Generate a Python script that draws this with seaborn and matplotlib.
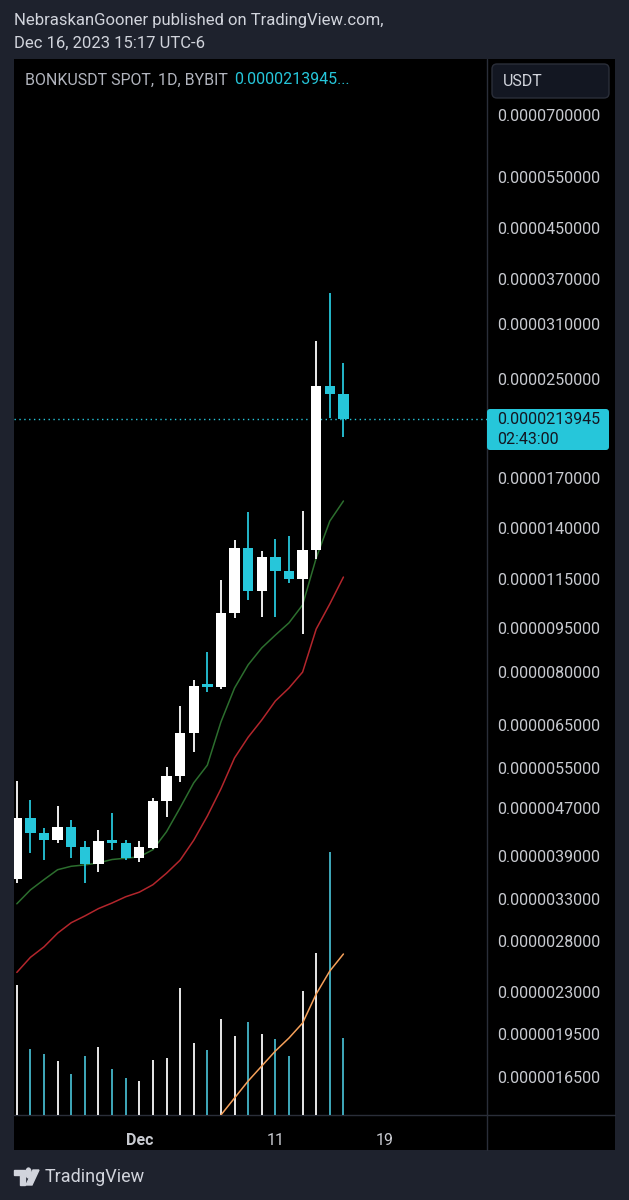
import numpy as np
import matplotlib
matplotlib.use("Agg")
import matplotlib.pyplot as plt
from matplotlib.patches import Rectangle, FancyBboxPatch, Polygon, Circle
import seaborn as sns

# BONKUSDT daily candles, Nov 22 -> Dec 16 2023 (prices in 1e-6 USDT)
opens  = [3.57, 4.53, 4.27, 4.15, 4.37, 4.05, 3.79, 4.15, 4.10, 3.88,
          4.03, 4.84, 5.32, 6.30, 7.62, 7.55, 10.07, 12.97, 10.95, 12.53,
          11.86, 11.47, 12.86, 24.36, 23.61]
highs  = [5.23, 4.86, 4.35, 4.74, 4.49, 4.13, 4.32, 4.62, 4.15, 4.14,
          4.89, 5.52, 7.01, 7.75, 8.63, 11.44, 13.35, 14.89, 12.81, 13.41,
          13.58, 14.98, 29.02, 34.95, 26.67]
lows   = [3.51, 3.95, 3.85, 4.10, 3.88, 3.52, 3.67, 4.00, 3.85, 3.82,
          4.01, 4.55, 5.21, 5.86, 7.38, 7.47, 9.88, 10.58, 9.92, 9.92,
          11.29, 9.26, 12.40, 21.48, 19.99]
closes = [4.53, 4.27, 4.15, 4.37, 4.05, 3.79, 4.14, 4.10, 3.88, 4.04,
          4.84, 5.33, 6.30, 7.57, 7.55, 10.07, 12.97, 10.95, 12.53, 11.85,
          11.47, 12.86, 24.36, 23.61, 21.3945]
volume = [130, 66, 61, 54, 41, 59, 68, 46, 37, 34,
          55, 57, 127, 72, 65, 96, 79, 93, 81, 76,
          59, 124, 162, 263, 77]
ma_fast = [3.24, 3.42, 3.56, 3.70, 3.75, 3.77, 3.80, 3.85, 3.87, 3.89,
           4.00, 4.29, 4.71, 5.19, 5.56, 6.58, 7.51, 8.22, 8.78, 9.23,
           9.68, 10.38, 12.46, 14.39, 15.56]
ma_slow = [2.48, 2.63, 2.74, 2.89, 3.01, 3.09, 3.18, 3.25, 3.33, 3.39,
           3.49, 3.65, 3.84, 4.15, 4.56, 5.07, 5.72, 6.20, 6.63, 7.14,
           7.51, 7.99, 9.45, 10.42, 11.57]
vol_ma = [np.nan] * 15 + [0, 17, 34, 49, 64, 77, 92, 121, 144, 161]

price_ticks = [70, 55, 45, 37, 31, 25, 17, 14, 11.5, 9.5, 8, 6.5, 5.5,
               4.7, 3.9, 3.3, 2.8, 2.3, 1.95, 1.65]
date_ticks = [9, 19, 27]
date_labels = ["Dec", "11", "19"]
last_price = 21.3945

BG = "#1e222d"
TEAL = "#26c6da"
VOL_TEAL = "#3fa9bb"
GRID = "#2a2e39"
TXT = "#c8cad0"

sns.set_theme(style="dark")
plt.rcParams["font.family"] = ["Roboto", "DejaVu Sans"]

W, H = 629, 1200
fig = plt.figure(figsize=(W / 100, H / 100), dpi=100, facecolor=BG)


def fx(px):
    return px / W


def fy(py):
    return 1 - py / H


def box(x0, y0, x1, y1, **kw):
    # rectangle in pixel coords (top-left origin), drawn in inches
    return FancyBboxPatch((x0 / 100, (H - y1) / 100), (x1 - x0) / 100, (y1 - y0) / 100,
                          transform=fig.dpi_scale_trans, **kw)


# black chart panel and separators
fig.patches.append(Rectangle((fx(14), fy(1150)), fx(615) - fx(14), fy(59) - fy(1150),
                             transform=fig.transFigure, facecolor="black", edgecolor="none", zorder=-10))
fig.lines.append(plt.Line2D([fx(487), fx(487)], [fy(59), fy(1150)], transform=fig.transFigure,
                            color=GRID, lw=1, zorder=-5))
fig.lines.append(plt.Line2D([fx(14), fx(615)], [fy(1115), fy(1115)], transform=fig.transFigure,
                            color=GRID, lw=1, zorder=-5))

ax = fig.add_axes([fx(14), fy(1115), fx(487) - fx(14), fy(59) - fy(1115)])
vax = ax.twinx()
vax.set_zorder(1)
ax.set_zorder(2)
ax.patch.set_visible(False)
vax.patch.set_visible(False)

idx = np.arange(len(closes))
up = np.array(closes) >= np.array(opens)
cols = np.where(up, "#ffffff", TEAL)
vcols = np.where(up, "#e8e8e8", VOL_TEAL)

# volume pane
vax.vlines(idx, 0, volume, colors=vcols, lw=1.4)
sns.lineplot(x=idx, y=vol_ma, ax=vax, color="#f5a05a", lw=1.1)
vax.set_ylim(0, 1056)
vax.axis("off")

# moving averages
sns.lineplot(x=idx, y=ma_fast, ax=ax, color="#2c6e2e", lw=1.1)
sns.lineplot(x=idx, y=ma_slow, ax=ax, color="#b3262c", lw=1.1)

# candles
ax.vlines(idx, lows, highs, colors=cols, lw=1.3, zorder=3)
body_lo = np.minimum(opens, closes)
body_h = np.abs(np.array(closes) - np.array(opens))
ax.bar(idx, body_h, bottom=body_lo, width=0.76, color=cols, edgecolor="none", zorder=4)

# last price line
ax.axhline(last_price, color=TEAL, lw=1, ls=(0, (1, 2.5)), zorder=2)

ax.set_yscale("log")
ax.set_ylim(1.423, 87.06)
ax.set_xlim(-0.206, 34.55)
vax.set_xlim(-0.206, 34.55)
ax.yaxis.tick_right()
ax.set_yticks(price_ticks)
ax.set_yticklabels([f"{v * 1e-6:.10f}" for v in price_ticks])
ax.yaxis.set_minor_locator(matplotlib.ticker.NullLocator())
ax.tick_params(axis="y", length=0, pad=7.5, labelsize=11.5, labelcolor=TXT)
ax.set_xticks(date_ticks)
ax.set_xticklabels(date_labels)
ax.tick_params(axis="x", length=0, pad=13, labelsize=11.5, labelcolor=TXT)
ax.get_xticklabels()[0].set_fontweight("bold")
ax.grid(False)
for s in ax.spines.values():
    s.set_visible(False)
ax.set_xlabel("")
ax.set_ylabel("")

# header texts
fig.text(fx(14), fy(21), "NebraskanGooner published on TradingView.com,", color="#d1d4dc",
         fontsize=12, va="center")
fig.text(fx(14), fy(43), "Dec 16, 2023 15:17 UTC-6", color="#d1d4dc", fontsize=12, va="center")
fig.text(fx(25), fy(80), "BONKUSDT SPOT, 1D, BYBIT", color="#b2b5be", fontsize=11.5, va="center")
fig.text(fx(234), fy(80), "0.0000213945...", color=TEAL, fontsize=11.5, va="center")

# USDT button
fig.patches.append(box(492, 64, 609, 98, boxstyle="round,pad=0,rounding_size=0.05",
                       facecolor="#131722", edgecolor="#2a2e39", lw=1))
fig.text(fx(503), fy(81), "USDT", color="#d1d4dc", fontsize=11.5, va="center")

# last price label
fig.patches.append(box(487, 409, 609, 450, boxstyle="round,pad=0,rounding_size=0.03",
                       facecolor=TEAL, edgecolor="none"))
fig.text(fx(497), fy(420), "0.0000213945", color="#131722", fontsize=11.5, va="center")
fig.text(fx(497), fy(440), "02:43:00", color="#131722", fontsize=11.5, va="center")

# footer logo
lc = "#d1d4dc"
fig.patches.append(Polygon([(fx(14), fy(1170)), (fx(25), fy(1170)), (fx(25), fy(1185)),
                            (fx(20), fy(1185)), (fx(20), fy(1175)), (fx(14), fy(1175))],
                           transform=fig.transFigure, color=lc))
fig.patches.append(Circle((fx(28.5), fy(1173)), 2.6 / W, transform=fig.transFigure, color=lc))
fig.patches.append(Polygon([(fx(33), fy(1170)), (fx(39), fy(1170)), (fx(32), fy(1185)),
                            (fx(26), fy(1185))], transform=fig.transFigure, color=lc))
fig.text(fx(45), fy(1177), "TradingView", color=lc, fontsize=13, va="center")

fig.savefig("out.png", dpi=100, facecolor=BG)
